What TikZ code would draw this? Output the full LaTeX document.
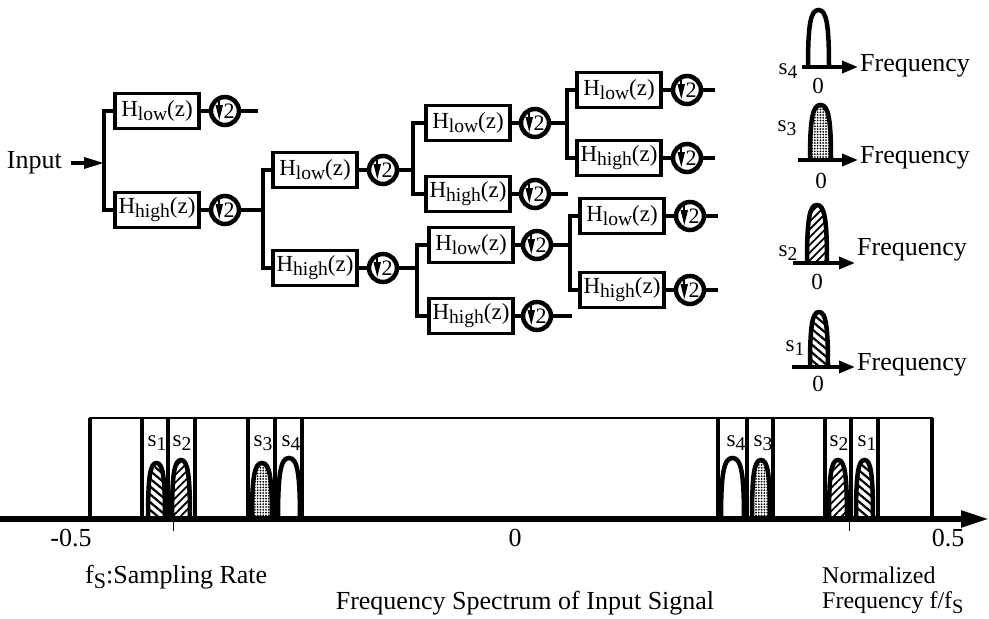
\documentclass[tikz,border=0pt]{standalone}
\usepackage{fontspec}
\usepackage{graphicx}
\setmainfont{Liberation Serif}
\usetikzlibrary{arrows.meta,patterns,patterns.meta,calc}
\newcommand\lo[1]{\raisebox{-0.4ex}{\scalebox{0.85}{#1}}}
\newcommand\dnsym[1]{%
  \fill ($(#1)+(-9.5,-6)$) -- ++(7.5,0) -- ++(-3.75,15) -- cycle;
  \draw[line width=1.8pt] ($(#1)+(-5.75,-12)$) -- ++(0,7);
  \node[font=\fontsize{22}{22}\selectfont, inner sep=0pt] (#1-two) at ($(#1)+(4,0.5)$) {2};}
\newcommand\bump[5]{%
  \draw[#5] (#1,#4) .. controls (#1,{#3+0.25*(#4-#3)}) and ({#1+0.12*(#2-#1)},#3) .. ({0.5*(#1+#2)},#3)
    .. controls ({#2-0.12*(#2-#1)},#3) and (#2,{#3+0.25*(#4-#3)}) .. (#2,#4);}
\tikzset{
  filt/.style={draw, line width=3.2pt, minimum width=84pt, minimum height=35pt, inner sep=0pt,
    font=\fontsize{23}{26}\selectfont},
  dsm/.style={circle, draw, line width=4.5pt, minimum size=28pt, inner sep=0pt},
  wire/.style={line width=3.4pt},
  lbl/.style={font=\fontsize{26}{30}\selectfont, inner sep=0pt},
  nlbl/.style={font=\fontsize{24}{28}\selectfont, inner sep=0pt},
  slbl/.style={font=\fontsize{23}{26}\selectfont, inner sep=0pt},
  bl/.style={line width=4.5pt},
  axarrow/.style={line width=3.6pt, -{Triangle[length=16pt,width=12pt]}},
  hatchA/.style={pattern={Lines[angle=45,distance=5.5pt,line width=1.8pt]}},
  hatchB/.style={pattern={Lines[angle=-40,distance=6pt,line width=2.2pt]}},
  checker/.style={pattern={Dots[distance=2.8pt,radius=1pt]}},
  frame/.style={line width=3.2pt},
}
\begin{document}
\begin{tikzpicture}[x=1pt,y=-1pt]
\useasboundingbox (0,0) rectangle (989,619);

% ---------- filter bank ----------
\node[lbl, anchor=east] (in) at (62,163) {Input};
\coordinate (j1) at (104,163);
\draw[wire, shorten <=9pt, -{Triangle[length=20pt,width=11pt]}] (in.east) -- (j1);

% column 1
\node[filt] (L1) at (157,111) {H\lo{low}(z)};
\node[filt] (H1) at (157,210) {H\lo{high}(z)};
\node[dsm] (dL1) at (225,111) {};
\node[dsm] (dH1) at (225,210) {};
\coordinate (eL1) at (258,111);
\coordinate (j2) at (263,210);
\draw[wire] (L1.west) -| (j1) |- (H1.west);
\draw[wire] (L1) -- (dL1);
\draw[wire] (H1) -- (dH1);
\draw[wire] (dL1) -- (eL1);
\draw[wire] (dH1) -- (j2);

% column 2
\node[filt] (L2) at (315,170) {H\lo{low}(z)};
\node[filt] (H2) at (315,268) {H\lo{high}(z)};
\node[dsm] (dL2) at (383,170) {};
\node[dsm] (dH2) at (383,268) {};
\draw[wire] (L2.west) -| (j2) |- (H2.west);
\draw[wire] (L2) -- (dL2);
\draw[wire] (H2) -- (dH2);
\coordinate (j3) at (413,170);
\coordinate (j4) at (417,268);
\draw[wire] (dL2) -- (j3);
\draw[wire] (dH2) -- (j4);

% column 3
\node[filt] (L3a) at (468,123) {H\lo{low}(z)};
\node[filt] (H3a) at (468,194) {H\lo{high}(z)};
\node[filt] (L3b) at (471,245) {H\lo{low}(z)};
\node[filt] (H3b) at (471,316) {H\lo{high}(z)};
\node[dsm] (dL3a) at (535,123) {};
\node[dsm] (dH3a) at (535,194) {};
\node[dsm] (dL3b) at (537,245) {};
\node[dsm] (dH3b) at (537,316) {};
\draw[wire] (L3a.west) -| (j3) |- (H3a.west);
\draw[wire] (L3b.west) -| (j4) |- (H3b.west);
\foreach \a/\b in {L3a/dL3a,H3a/dH3a,L3b/dL3b,H3b/dH3b} \draw[wire] (\a) -- (\b);
\coordinate (eH3a) at (568,194);
\coordinate (eH3b) at (572,316);
\draw[wire] (dH3a) -- (eH3a);
\draw[wire] (dH3b) -- (eH3b);
\coordinate (j5) at (567,123);
\coordinate (j6) at (570,245);
\draw[wire] (dL3a) -- (j5);
\draw[wire] (dL3b) -- (j6);

% column 4
\node[filt] (L4a) at (619,90) {H\lo{low}(z)};
\node[filt] (H4a) at (619,158) {H\lo{high}(z)};
\node[filt] (L4b) at (622,216) {H\lo{low}(z)};
\node[filt] (H4b) at (622,290) {H\lo{high}(z)};
\node[dsm] (dL4a) at (687,90) {};
\node[dsm] (dH4a) at (687,158) {};
\node[dsm] (dL4b) at (690,216) {};
\node[dsm] (dH4b) at (690,290) {};
\draw[wire] (L4a.west) -| (j5) |- (H4a.west);
\draw[wire] (L4b.west) -| (j6) |- (H4b.west);
\foreach \a/\b in {L4a/dL4a,H4a/dH4a,L4b/dL4b,H4b/dH4b} \draw[wire] (\a) -- (\b);
\coordinate (eL4a) at (715,90);
\coordinate (eH4a) at (715,158);
\coordinate (eL4b) at (718,216);
\coordinate (eH4b) at (718,290);
\foreach \a/\b in {dL4a/eL4a,dH4a/eH4a,dL4b/eL4b,dH4b/eH4b} \draw[wire] (\a) -- (\b);

\foreach \d in {dL1,dH1,dL2,dH2,dL3a,dH3a,dL3b,dH3b,dL4a,dH4a,dL4b,dH4b} {\dnsym{\d}}

% ---------- sub-band spectra (right) ----------
% s4
\bump{808}{829}{10}{67}{bl}
\coordinate (a4s) at (802,67); \coordinate (a4e) at (858,67);
\draw[axarrow] (a4s) -- (a4e);
\node[lbl, anchor=west] (f4) at (860,66) {Frequency};
\node[slbl] (s4) at (788,71) {s\lo{4}};
\node[slbl] (z4) at (818,86) {0};
% s3
\bump{810}{831}{105}{160}{bl,checker}
\coordinate (a3s) at (798,160); \coordinate (a3e) at (858,160);
\draw[axarrow] (a3s) -- (a3e);
\node[lbl, anchor=west] (f3) at (860,158) {Frequency};
\node[slbl] (s3) at (787,128) {s\lo{3}};
\node[slbl] (z3) at (821,181) {0};
% s2
\bump{807}{827}{205}{263}{bl,hatchA}
\coordinate (a2s) at (793,263); \coordinate (a2e) at (855,263);
\draw[axarrow] (a2s) -- (a2e);
\node[lbl, anchor=west] (f2) at (857,250) {Frequency};
\node[slbl] (s2) at (788,253) {s\lo{2}};
\node[slbl] (z2) at (817,282) {0};
% s1
\bump{810}{828}{312}{367}{bl,hatchB}
\coordinate (a1s) at (792,367); \coordinate (a1e) at (855,367);
\draw[axarrow] (a1s) -- (a1e);
\node[lbl, anchor=west] (f1) at (857,365) {Frequency};
\node[slbl] (s1) at (795,348) {s\lo{1}};
\node[slbl] (z1) at (818,384) {0};

% ---------- input spectrum (bottom) ----------
\draw[line width=2.4pt] (90,519) -- (90,418) -- (932,418) -- (932,519);
\foreach \x in {142,168,195,248,275,302,718,747,773,825,851,878}
  \draw[frame] (\x,418) -- (\x,519);
\draw[frame] (90,418) -- (90,519);
\draw[frame] (932,418) -- (932,519);
\bump{148}{165}{463}{519}{bl,hatchB}
\bump{172}{190}{460}{519}{bl,hatchA}
\bump{252}{272}{463}{519}{bl,checker}
\bump{278}{300}{458}{519}{bl}
\bump{721}{744}{458}{519}{bl}
\bump{752}{770}{460}{519}{bl,checker}
\bump{829}{847}{460}{519}{bl,hatchA}
\bump{856}{873}{460}{519}{bl,hatchB}
\node[slbl] (b1) at (157,443) {s\lo{1}};
\node[slbl] (b2) at (182,443) {s\lo{2}};
\node[slbl] (b3) at (263,443) {s\lo{3}};
\node[slbl] (b4) at (291,443) {s\lo{4}};
\node[slbl] (c4) at (736,443) {s\lo{4}};
\node[slbl] (c3) at (763,443) {s\lo{3}};
\node[slbl] (c2) at (839,443) {s\lo{2}};
\node[slbl] (c1) at (867,443) {s\lo{1}};

\coordinate (ax0) at (0,519); \coordinate (ax1) at (989,519);
\draw[line width=5.5pt, -{Triangle[length=28pt,width=16pt]}] (ax0) -- (ax1);
\draw[line width=1pt] (173,519) -- (173,531);
\draw[line width=1pt] (849,519) -- (849,531);

\node[lbl] (m5) at (71,538) {-0.5};
\node[lbl] (zero) at (515,538) {0};
\node[lbl] (p5) at (948,538) {0.5};
\node[lbl, anchor=west] (fs) at (85,577) {f\lo{S}:Sampling Rate};
\node[lbl] (title) at (525,603) {Frequency Spectrum of Input Signal};
\node[nlbl, anchor=west] (nf1) at (822,575) {Normalized};
\node[nlbl, anchor=west] (nf2) at (822,603) {Frequency f/f\lo{S}};
\end{tikzpicture}
\end{document}
